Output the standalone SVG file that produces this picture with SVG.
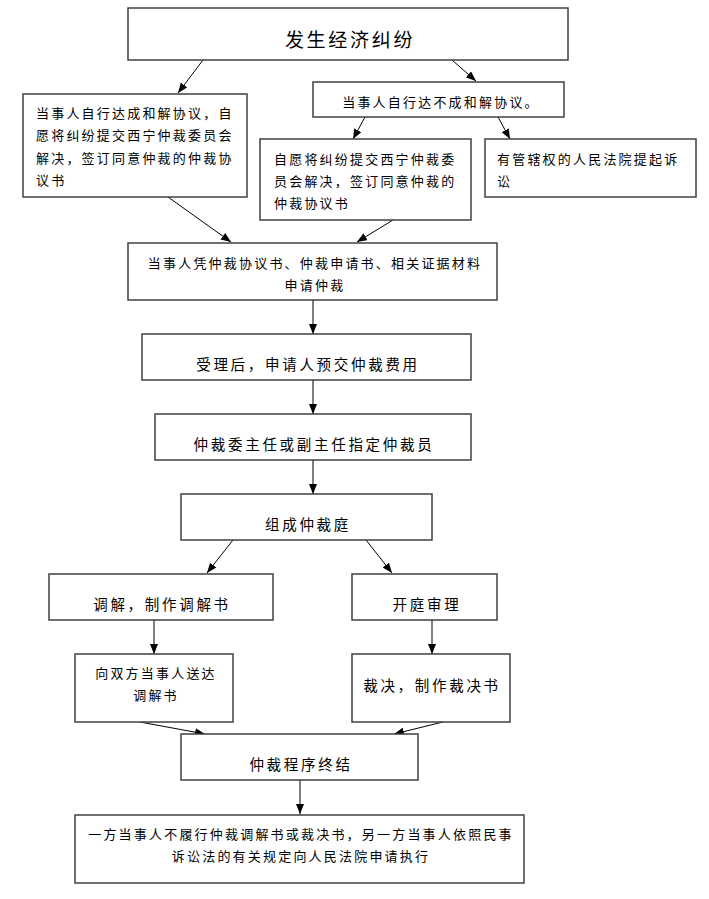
<svg xmlns="http://www.w3.org/2000/svg" width="709" height="899" viewBox="0 0 709 899">
<style>
.box{fill:#fff;stroke:#404040;stroke-width:1.5}
.t{font-family:"Noto Sans CJK SC","Noto Sans CJK TC",sans-serif;font-size:13px;letter-spacing:2.2px;fill:#000;dominant-baseline:central}
.m{font-size:14.5px;letter-spacing:2.7px}
.c{text-anchor:middle}
.ttl{font-size:19px;letter-spacing:2.7px}
.ln{stroke:#000;stroke-width:1;fill:none;marker-end:url(#ah)}
</style>
<defs>
<marker id="ah" markerUnits="userSpaceOnUse" markerWidth="11" markerHeight="9" refX="10" refY="4" orient="auto">
<path d="M0,0 L10,4 L0,8 z" fill="#000"/>
</marker>
</defs>
<rect width="709" height="899" fill="#fff"/>
<g id="connectors">
<line class="ln" x1="203" y1="60" x2="178" y2="93"/>
<line class="ln" x1="452" y1="60" x2="476" y2="81"/>
<line class="ln" x1="365" y1="117" x2="353" y2="139"/>
<line class="ln" x1="498" y1="117" x2="510" y2="139"/>
<line class="ln" x1="168" y1="197" x2="231" y2="242"/>
<line class="ln" x1="393" y1="220" x2="357" y2="242"/>
<line class="ln" x1="313" y1="300" x2="313" y2="334"/>
<line class="ln" x1="313" y1="380" x2="313" y2="414"/>
<line class="ln" x1="313" y1="460" x2="313" y2="494"/>
<line class="ln" x1="233" y1="540" x2="207" y2="573"/>
<line class="ln" x1="366" y1="540" x2="392" y2="573"/>
<line class="ln" x1="154" y1="620" x2="154" y2="654"/>
<line class="ln" x1="432" y1="620" x2="432" y2="654"/>
<line class="ln" x1="140" y1="722" x2="205" y2="734"/>
<line class="ln" x1="443" y1="722" x2="394" y2="734"/>
<line class="ln" x1="300" y1="780" x2="300" y2="814"/>
</g>
<g id="n_start">
<rect class="box" x="128" y="8" width="440" height="52"/>
<text class="t ttl c" x="350" y="38">发生经济纠纷</text>
</g>
<g id="n_agree">
<rect class="box" x="23" y="94" width="224" height="103"/>
<text class="t" x="36" y="112">当事人自行达成和解协议，自</text>
<text class="t" x="36" y="134.5">愿将纠纷提交西宁仲裁委员会</text>
<text class="t" x="36" y="157">解决，签订同意仲裁的仲裁协</text>
<text class="t" x="36" y="179">议书</text>
</g>
<g id="n_noagree">
<rect class="box" x="313" y="82" width="251" height="35"/>
<text class="t c" x="441" y="101">当事人自行达不成和解协议。</text>
</g>
<g id="n_submit">
<rect class="box" x="260" y="139" width="211" height="81"/>
<text class="t" x="274" y="158">自愿将纠纷提交西宁仲裁委</text>
<text class="t" x="274" y="180">员会解决，签订同意仲裁的</text>
<text class="t" x="274" y="202">仲裁协议书</text>
</g>
<g id="n_court">
<rect class="box" x="485" y="139" width="211" height="58"/>
<text class="t" x="497" y="158">有管辖权的人民法院提起诉</text>
<text class="t" x="497" y="180">讼</text>
</g>
<g id="n_apply">
<rect class="box" x="128" y="243" width="369" height="57"/>
<text class="t c" x="315" y="262">当事人凭仲裁协议书、仲裁申请书、相关证据材料</text>
<text class="t c" x="315" y="284">申请仲裁</text>
</g>
<g id="n_fee">
<rect class="box" x="142" y="334" width="329" height="46"/>
<text class="t m c" x="308" y="363">受理后，申请人预交仲裁费用</text>
</g>
<g id="n_assign">
<rect class="box" x="155" y="414" width="316" height="46"/>
<text class="t m c" x="314" y="443">仲裁委主任或副主任指定仲裁员</text>
</g>
<g id="n_tribunal">
<rect class="box" x="181" y="494" width="251" height="46"/>
<text class="t m c" x="308" y="523">组成仲裁庭</text>
</g>
<g id="n_mediate">
<rect class="box" x="49" y="574" width="224" height="46"/>
<text class="t m c" x="162" y="603">调解，制作调解书</text>
</g>
<g id="n_hearing">
<rect class="box" x="352" y="574" width="145" height="46"/>
<text class="t m c" x="427" y="603">开庭审理</text>
</g>
<g id="n_deliver">
<rect class="box" x="75" y="654" width="158" height="68"/>
<text class="t c" x="156" y="672">向双方当事人送达</text>
<text class="t c" x="156" y="694">调解书</text>
</g>
<g id="n_award">
<rect class="box" x="352" y="654" width="158" height="68"/>
<text class="t m c" x="432" y="684">裁决，制作裁决书</text>
</g>
<g id="n_end">
<rect class="box" x="181" y="734" width="237" height="46"/>
<text class="t m c" x="301" y="763">仲裁程序终结</text>
</g>
<g id="n_enforce">
<rect class="box" x="75" y="815" width="449" height="68"/>
<text class="t c" x="301" y="833">一方当事人不履行仲裁调解书或裁决书，另一方当事人依照民事</text>
<text class="t c" x="301" y="855">诉讼法的有关规定向人民法院申请执行</text>
</g>
</svg>
